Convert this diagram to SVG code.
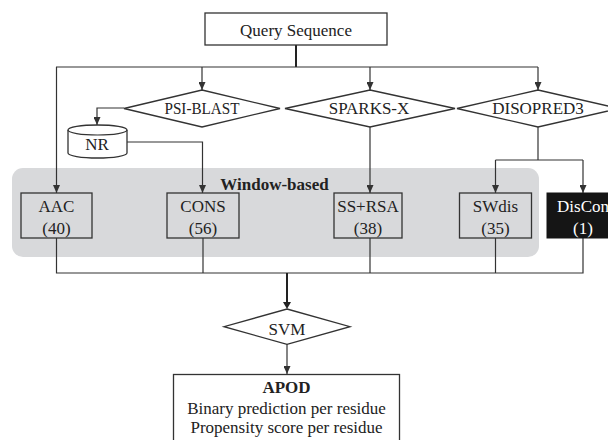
<svg xmlns="http://www.w3.org/2000/svg" width="608" height="440" viewBox="0 0 608 440">
<style>
text{font-family:"Liberation Serif","Times New Roman",serif;font-size:17px;fill:#222;text-anchor:middle}
.b{font-weight:bold}
.shape{fill:#fff;stroke:#333;stroke-width:1.3}
.box{fill:none;stroke:#333;stroke-width:1.3}
.c{fill:none;stroke:#333;stroke-width:1.2}
.t{fill:none;stroke:#222;stroke-width:2}
</style>
<defs>
<marker id="a" markerWidth="8" markerHeight="7" refX="8" refY="3.5" orient="auto" markerUnits="userSpaceOnUse">
<path d="M0,0 L8,3.5 L0,7 z" fill="#333"/>
</marker>
</defs>
<rect id="window-bg" x="12" y="168" width="527" height="89" rx="11" fill="#d8d9db"/>
<g id="connectors">
<path class="t" d="M296,45 V67"/>
<path class="c" d="M56,67 H538"/>
<path class="c" d="M202,67 V90" marker-end="url(#a)"/>
<path class="c" d="M370,67 V90" marker-end="url(#a)"/>
<path class="c" d="M538,67 V90" marker-end="url(#a)"/>
<path class="c" d="M56.5,67 V193" marker-end="url(#a)"/>
<path class="c" d="M124,108 H97 V125" marker-end="url(#a)"/>
<path class="c" d="M127,142 H202.5 V193" marker-end="url(#a)"/>
<path class="c" d="M370,127 V193" marker-end="url(#a)"/>
<path class="c" d="M538,127 V160"/>
<path class="c" d="M495.5,160 H583"/>
<path class="c" d="M495.5,160 V193" marker-end="url(#a)"/>
<path class="c" d="M583,160 V193" marker-end="url(#a)"/>
<path class="c" d="M56.5,238 V273 H583 V238"/>
<path class="c" d="M203,238 V273"/>
<path class="c" d="M370,238 V273"/>
<path class="c" d="M495.5,238 V273"/>
<path class="t" d="M287,273 V303"/>
<path d="M283,302 L291,302 L287,309 z" fill="#222"/>
<path class="c" d="M287,344 V374" marker-end="url(#a)"/>
</g>
<g id="query">
<rect class="shape" x="205" y="13" width="182" height="32"/>
<text x="296" y="36">Query Sequence</text>
</g>
<g id="psiblast">
<polygon class="shape" points="202,90 280,108.5 202,127 124,108.5"/>
<text x="202" y="114" textLength="75" lengthAdjust="spacingAndGlyphs">PSI-BLAST</text>
</g>
<g id="sparksx">
<polygon class="shape" points="370,90 455,108.5 370,127 285,108.5"/>
<text x="369" y="114">SPARKS-X</text>
</g>
<g id="disopred3">
<polygon class="shape" points="538,90 619,108.5 538,127 457,108.5"/>
<text x="538" y="114">DISOPRED3</text>
</g>
<g id="nr">
<path class="shape" d="M68,130 V153 A29.5,5 0 0 0 127,153 V130 A29.5,5 0 0 0 68,130 Z"/>
<path class="c" d="M68,130 A29.5,5 0 0 0 127,130"/>
<text x="97" y="150">NR</text>
</g>
<text id="window-label" class="b" x="274.5" y="190">Window-based</text>
<g id="aac">
<rect class="box" x="21" y="193" width="71" height="45"/>
<text x="56.5" y="212">AAC</text>
<text x="56.5" y="234">(40)</text>
</g>
<g id="cons">
<rect class="box" x="167" y="193" width="72" height="45"/>
<text x="203" y="212">CONS</text>
<text x="203" y="234">(56)</text>
</g>
<g id="ssrsa">
<rect class="box" x="334" y="193" width="68" height="45"/>
<text x="368" y="212">SS+RSA</text>
<text x="368" y="234">(38)</text>
</g>
<g id="swdis">
<rect class="box" x="459.5" y="193" width="72" height="45"/>
<text x="495.5" y="212">SWdis</text>
<text x="495.5" y="234">(35)</text>
</g>
<g id="discon">
<rect x="547" y="193" width="72" height="45" fill="#151515" stroke="#151515"/>
<text x="583" y="212" style="fill:#fff">DisCon</text>
<text x="583" y="234" style="fill:#fff">(1)</text>
</g>
<g id="svm">
<polygon class="shape" points="287,309 350,326.7 287,344.3 224,326.7"/>
<text x="287" y="335">SVM</text>
</g>
<g id="apod">
<rect class="shape" x="173.5" y="374.5" width="226" height="80"/>
<text class="b" x="286.5" y="393">APOD</text>
<text x="286.5" y="414">Binary prediction per residue</text>
<text x="286.5" y="433">Propensity score per residue</text>
</g>
</svg>
